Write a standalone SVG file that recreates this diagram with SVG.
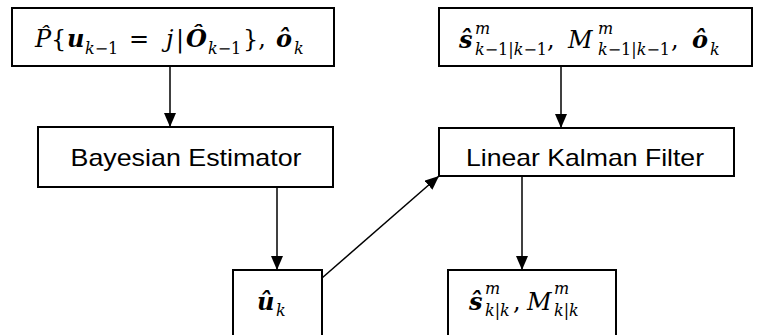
<svg xmlns="http://www.w3.org/2000/svg" width="757" height="335" viewBox="0 0 757 335">
<defs>
<style>
.box{fill:#fff;stroke:#000;stroke-width:2}
.edge{stroke:#000;stroke-width:1.5;fill:none}
.lbl{font-family:"Liberation Sans",Arial,sans-serif;font-size:24px;fill:#000}
.m{font-family:"DejaVu Serif","Liberation Serif",serif;font-size:24px;fill:#000}
.i{font-style:italic}
.b{font-weight:bold;font-style:italic}
.s{font-size:16px}
</style>
<marker id="ah" viewBox="0 0 14 12" refX="14" refY="6" markerWidth="14" markerHeight="12" markerUnits="userSpaceOnUse" orient="auto">
<path d="M0,0 L14,6 L0,12 Z" fill="#000"/>
</marker>
</defs>
<rect width="757" height="335" fill="#fff"/>
<g id="connectors">
<line class="edge" x1="170" y1="66" x2="170" y2="127" marker-end="url(#ah)"/>
<line class="edge" x1="561" y1="66" x2="561" y2="128" marker-end="url(#ah)"/>
<line class="edge" x1="277" y1="187" x2="277" y2="270" marker-end="url(#ah)"/>
<line class="edge" x1="522" y1="176" x2="522" y2="270" marker-end="url(#ah)"/>
<line class="edge" x1="322" y1="278" x2="439" y2="176" marker-end="url(#ah)"/>
</g>
<g id="input1">
<rect class="box" x="12" y="8" width="322" height="58"/>
<text class="m" y="47"><tspan class="i" x="35">P̂</tspan><tspan x="51">{</tspan><tspan class="b" x="67">u</tspan><tspan class="i s" x="85" y="54">k</tspan><tspan class="s">−1</tspan><tspan x="129" y="47">=</tspan><tspan class="i" x="166">j</tspan><tspan x="176">|</tspan><tspan class="b" x="186">Ô</tspan><tspan class="i s" x="208" y="54">k</tspan><tspan class="s">−1</tspan><tspan x="243" y="47">},</tspan><tspan class="b" x="276">ô</tspan><tspan class="i s" x="294" y="54">k</tspan></text>
</g>
<g id="input2">
<rect class="box" x="439" y="8" width="313" height="58"/>
<text class="m" y="48"><tspan class="b" x="459">ŝ</tspan><tspan class="i s" x="475" y="34">m</tspan><tspan class="i s" x="475" y="55">k</tspan><tspan class="s">−1|</tspan><tspan class="i s">k</tspan><tspan class="s">−1</tspan><tspan x="547" y="48">,</tspan><tspan class="i" x="568">M</tspan><tspan class="i s" x="598" y="34">m</tspan><tspan class="i s" x="598" y="55">k</tspan><tspan class="s">−1|</tspan><tspan class="i s">k</tspan><tspan class="s">−1</tspan><tspan x="671" y="48">,</tspan><tspan class="b" x="692">ô</tspan><tspan class="i s" x="710" y="55">k</tspan></text>
</g>
<g id="bayes">
<rect class="box" x="38" y="127" width="295" height="60"/>
<text class="lbl" x="186" y="166" text-anchor="middle" textLength="231" lengthAdjust="spacingAndGlyphs">Bayesian Estimator</text>
</g>
<g id="kalman">
<rect class="box" x="439" y="128" width="295" height="48"/>
<text class="lbl" x="585" y="166" text-anchor="middle" textLength="238" lengthAdjust="spacingAndGlyphs">Linear Kalman Filter</text>
</g>
<g id="uk">
<rect class="box" x="233" y="270" width="89" height="80"/>
<text class="m" y="310"><tspan class="b" x="257">û</tspan><tspan class="i s" x="276" y="316">k</tspan></text>
</g>
<g id="result">
<rect class="box" x="448" y="270" width="168" height="80"/>
<text class="m" y="310"><tspan class="b" x="469">ŝ</tspan><tspan class="i s" x="485" y="294">m</tspan><tspan class="i s" x="485" y="316">k</tspan><tspan class="s">|</tspan><tspan class="i s">k</tspan><tspan x="513" y="310">,</tspan><tspan class="i" x="527">M</tspan><tspan class="i s" x="554" y="294">m</tspan><tspan class="i s" x="554" y="316">k</tspan><tspan class="s">|</tspan><tspan class="i s">k</tspan></text>
</g>
</svg>
